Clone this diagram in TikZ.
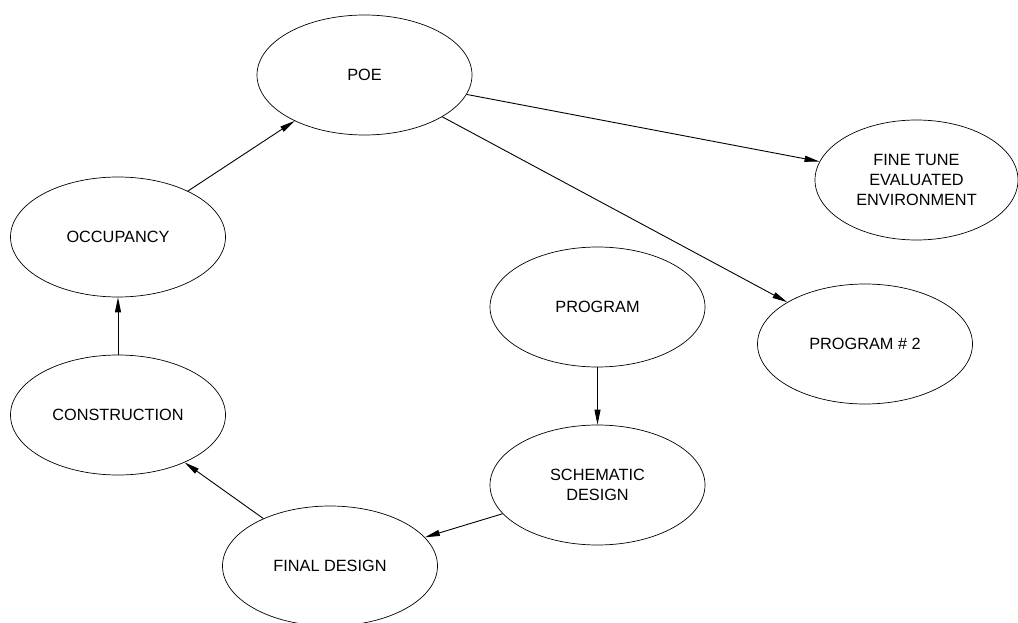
\documentclass[tikz,border=0pt]{standalone}
\usepackage{fontspec}
\setmainfont{Liberation Sans}
\usepackage{tikz}
\usetikzlibrary{arrows.meta}
\usetikzlibrary{shapes.geometric}
\tikzstyle{oval}=[ellipse, draw, line width=0.7pt, minimum width=215pt, minimum height=120pt, inner sep=0pt, align=center]

\begin{document}
\begin{tikzpicture}[x=1pt, y=-1pt]

\tikzset{>={Triangle[length=15pt, width=6pt]}}
\tikzset{every node/.style={font=\fontsize{16.3pt}{20pt}\selectfont}}
\tikzset{every path/.style={line width=0.9pt}}

\useasboundingbox (0,0) rectangle (1018,623);

% Ovals
\node[oval] (poe)     at (364.5,75)  {POE};
\node[oval] (occ)     at (118,237)   {OCCUPANCY};
\node[oval] (constr)  at (118,415)   {CONSTRUCTION};
\node[oval] (final)   at (330,566)   {FINAL DESIGN};
\node[oval] (schem)   at (597.5,485) {SCHEMATIC\\DESIGN};
\node[oval] (prog)    at (597.5,307) {PROGRAM};
\node[oval] (progtwo) at (865,344)   {PROGRAM \# 2};
\node[oval, minimum width=203pt] (fine) at (916.5,180) {FINE TUNE\\EVALUATED\\ENVIRONMENT};

% Arrows
\draw[->] (prog) -- (schem);     % program -> schematic
\draw[->] (schem) -- (final);    % schematic -> final design
\draw[->] (final) -- (constr);   % final design -> construction
\draw[->] (constr) -- (occ);     % construction -> occupancy
\draw[->] (occ) -- (poe);        % occupancy -> poe
\draw[->] (poe) -- (fine);       % poe -> fine tune
\draw[->] (poe) -- (progtwo);    % poe -> program 2

\end{tikzpicture}
\end{document}
